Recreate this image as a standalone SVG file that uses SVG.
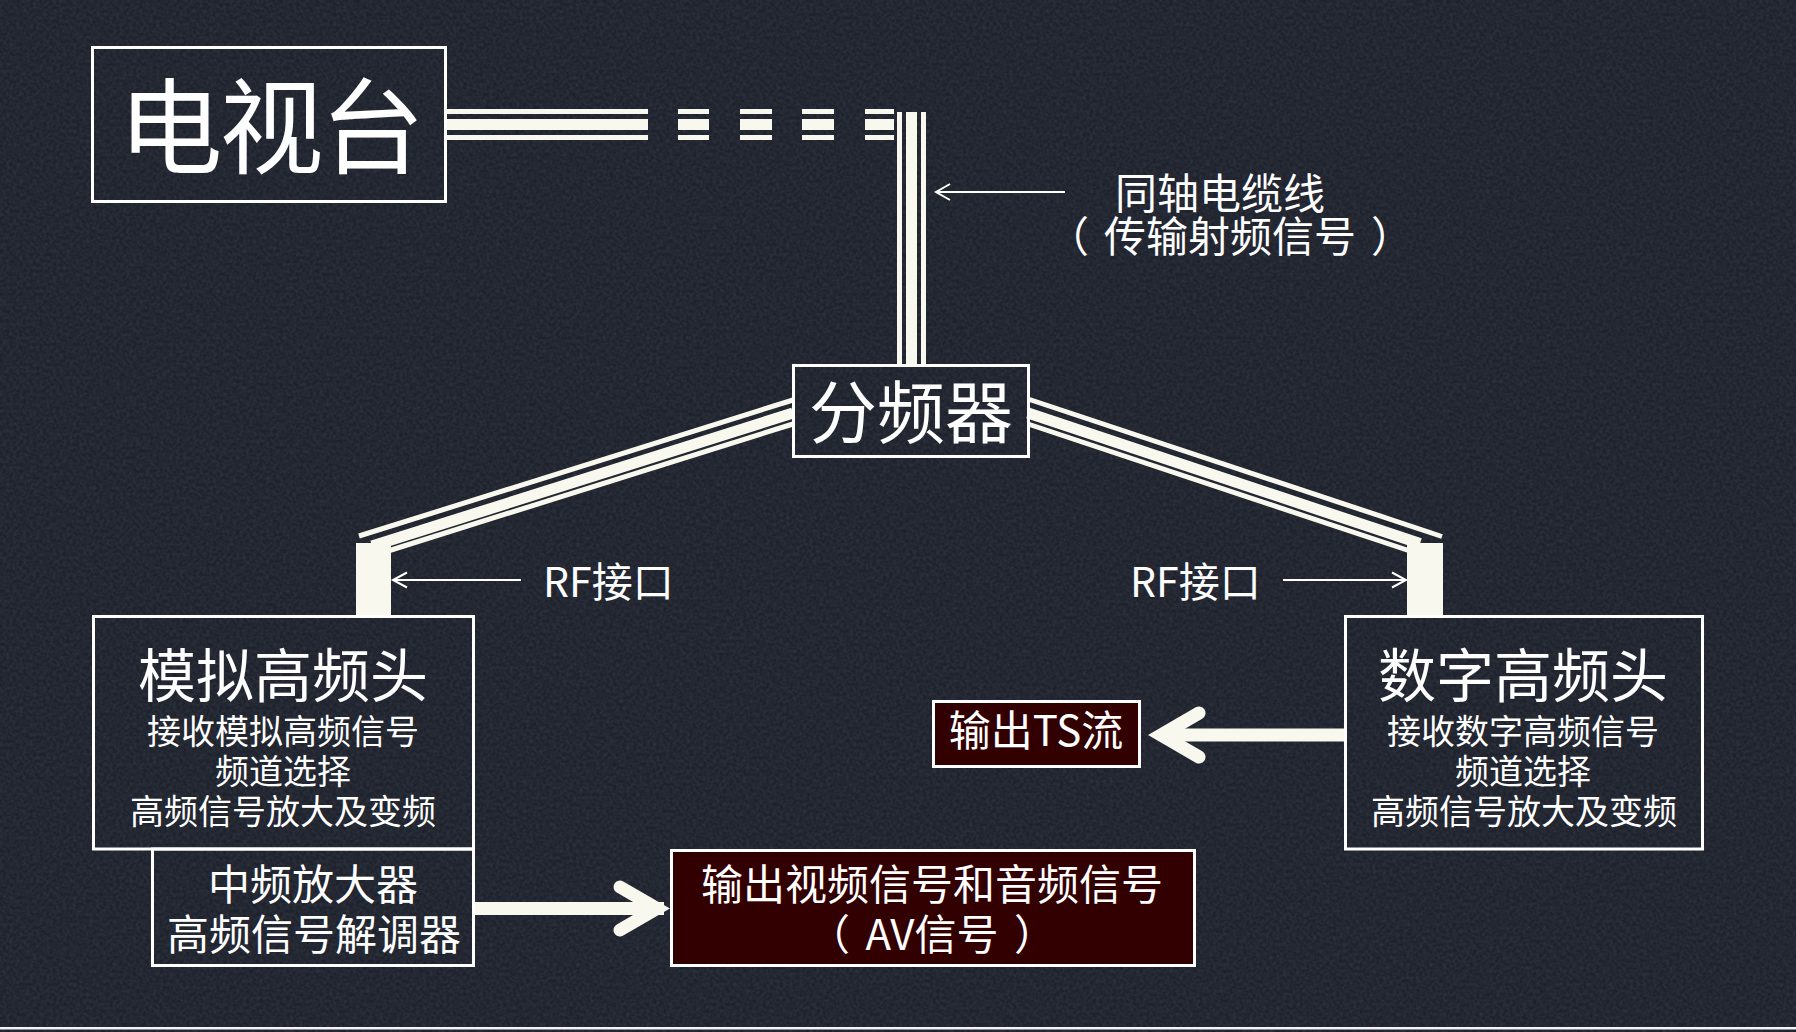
<svg xmlns="http://www.w3.org/2000/svg" width="1796" height="1032" viewBox="0 0 1796 1032">
<defs>
<filter id="noise" x="0" y="0" width="100%" height="100%">
<feTurbulence type="fractalNoise" baseFrequency="0.3" numOctaves="2" seed="7"/>
<feColorMatrix type="matrix" values="0 0 0 0 1  0 0 0 0 1  0 0 0 0 1  0.12 0 0 0 -0.035"/>
</filter>
<style>
.box{fill:none;stroke:#ffffff;stroke-width:3}
.boxd{fill:#320000;stroke:#ffffff;stroke-width:3}
.t{font-family:"Noto Sans CJK SC","Noto Sans CJK JP",sans-serif;font-weight:400;fill:#ffffff;text-anchor:middle}
.ts{font-family:"Noto Sans CJK SC","Noto Sans CJK JP",sans-serif;font-weight:400;fill:#ffffff;text-anchor:start}
.c5{stroke:#f8f8ee;stroke-width:5;fill:none}
.c11{stroke:#f8f8ee;stroke-width:11;fill:none}
.thin{stroke:#ffffff;stroke-width:2;fill:none}
.shaft{stroke:#f8f8ee;stroke-width:13;fill:none}
.head{stroke:#f8f8ee;stroke-width:13;fill:none;stroke-linecap:round;stroke-linejoin:miter;stroke-miterlimit:10}
.bar{fill:#f8f8ee}
</style>
</defs>
<rect x="0" y="0" width="1796" height="1032" fill="#1e222d"/>
<rect x="0" y="0" width="1796" height="1032" filter="url(#noise)"/>
<rect x="0" y="1027" width="1796" height="2.5" fill="#f4f4f4"/>

<g id="connectors">
  <g id="coax-horizontal">
    <rect class="bar" x="447" y="109" width="201" height="5"/>
    <rect class="bar" x="447" y="119" width="201" height="11"/>
    <rect class="bar" x="447" y="135" width="201" height="5"/>
    <g id="dash1"><rect class="bar" x="678" y="109" width="31" height="5"/><rect class="bar" x="678" y="119" width="31" height="11"/><rect class="bar" x="678" y="135" width="31" height="5"/></g>
    <g id="dash2"><rect class="bar" x="740" y="109" width="32" height="5"/><rect class="bar" x="740" y="119" width="32" height="11"/><rect class="bar" x="740" y="135" width="32" height="5"/></g>
    <g id="dash3"><rect class="bar" x="802" y="109" width="32" height="5"/><rect class="bar" x="802" y="119" width="32" height="11"/><rect class="bar" x="802" y="135" width="32" height="5"/></g>
    <g id="dash4"><rect class="bar" x="865" y="109" width="29" height="5"/><rect class="bar" x="865" y="119" width="29" height="11"/><rect class="bar" x="865" y="135" width="29" height="5"/></g>
  </g>
  <g id="coax-vertical">
    <rect class="bar" x="897" y="112" width="5" height="253"/>
    <rect class="bar" x="906" y="112" width="11" height="253"/>
    <rect class="bar" x="921" y="112" width="5" height="253"/>
  </g>
  <g id="branch-left">
    <line class="c5" x1="359" y1="536" x2="793" y2="400"/>
    <line class="c11" x1="372" y1="546" x2="793" y2="413"/>
    <line class="c5" x1="388" y1="551" x2="793" y2="424"/>
    <rect class="bar" x="356" y="543" width="35" height="73"/>
  </g>
  <g id="branch-right">
    <line class="c5" x1="1028" y1="399" x2="1442" y2="536.5"/>
    <line class="c11" x1="1028" y1="413" x2="1420" y2="543.5"/>
    <line class="c5" x1="1028" y1="424" x2="1410" y2="551"/>
    <rect class="bar" x="1407" y="543" width="36" height="73"/>
  </g>
  <g id="pointer-coax"><line class="thin" x1="1065" y1="192" x2="936" y2="192"/><polyline class="thin" points="950,184 936,192 950,200"/></g>
  <g id="pointer-rf-left"><line class="thin" x1="521" y1="580" x2="393" y2="580"/><polyline class="thin" points="407,572.5 393,580 407,587.5"/></g>
  <g id="pointer-rf-right"><line class="thin" x1="1283" y1="580" x2="1406" y2="580"/><polyline class="thin" points="1392,572.5 1406,580 1392,587.5"/></g>
  <g id="arrow-av"><line class="shaft" x1="473" y1="908.5" x2="664" y2="908.5"/><polyline class="head" points="620,887 657,908.5 620,930"/></g>
  <g id="arrow-ts"><line class="shaft" x1="1345" y1="735" x2="1166" y2="735"/><polyline class="head" points="1199,713 1161,735 1199,757"/></g>
</g>

<g id="tv-station">
  <rect class="box" x="92.5" y="47.5" width="353" height="154"/>
  <text class="t" x="270" y="166" font-size="104" letter-spacing="-3">电视台</text>
</g>

<g id="coax-label">
  <text class="t" x="1220" y="209" font-size="42">同轴电缆线</text>
  <text class="ts" x="1047" y="252" font-size="42">（</text>
  <text class="t" x="1230" y="252" font-size="42">传输射频信号</text>
  <text class="ts" x="1371" y="252" font-size="42">）</text>
</g>

<g id="splitter">
  <rect class="box" x="793.5" y="365.5" width="235" height="91"/>
  <text class="t" x="911" y="438" font-size="68">分频器</text>
</g>

<g id="rf-label-left"><text class="ts" x="543" y="597" font-size="41">RF接口</text></g>
<g id="rf-label-right"><text class="ts" x="1130" y="597" font-size="41">RF接口</text></g>

<g id="analog-tuner">
  <rect class="box" x="93.5" y="616.5" width="380" height="232.5"/>
  <text class="t" x="283" y="697" font-size="58">模拟高频头</text>
  <text class="t" x="283" y="744" font-size="34">接收模拟高频信号</text>
  <text class="t" x="283" y="784" font-size="34">频道选择</text>
  <text class="t" x="283" y="824" font-size="34">高频信号放大及变频</text>
</g>

<g id="if-amplifier">
  <rect class="box" x="152.5" y="849" width="321" height="116.5"/>
  <text class="t" x="313" y="900" font-size="42">中频放大器</text>
  <text class="t" x="314" y="950" font-size="42">高频信号解调器</text>
</g>

<g id="av-output">
  <rect class="boxd" x="671.5" y="850.5" width="523" height="115"/>
  <text class="t" x="932" y="900" font-size="42">输出视频信号和音频信号</text>
  <text class="ts" x="808" y="950" font-size="42">（</text>
  <text class="t" x="932" y="950" font-size="42">AV信号</text>
  <text class="ts" x="1014" y="950" font-size="42">）</text>
</g>

<g id="digital-tuner">
  <rect class="box" x="1345.5" y="616.5" width="357" height="232.5"/>
  <text class="t" x="1523" y="697" font-size="58">数字高频头</text>
  <text class="t" x="1523" y="744" font-size="34">接收数字高频信号</text>
  <text class="t" x="1523" y="784" font-size="34">频道选择</text>
  <text class="t" x="1524" y="824" font-size="34">高频信号放大及变频</text>
</g>

<g id="ts-output">
  <rect class="boxd" x="933.5" y="701.5" width="206" height="65"/>
  <text class="t" x="1036" y="746" font-size="42">输出TS流</text>
</g>
</svg>
